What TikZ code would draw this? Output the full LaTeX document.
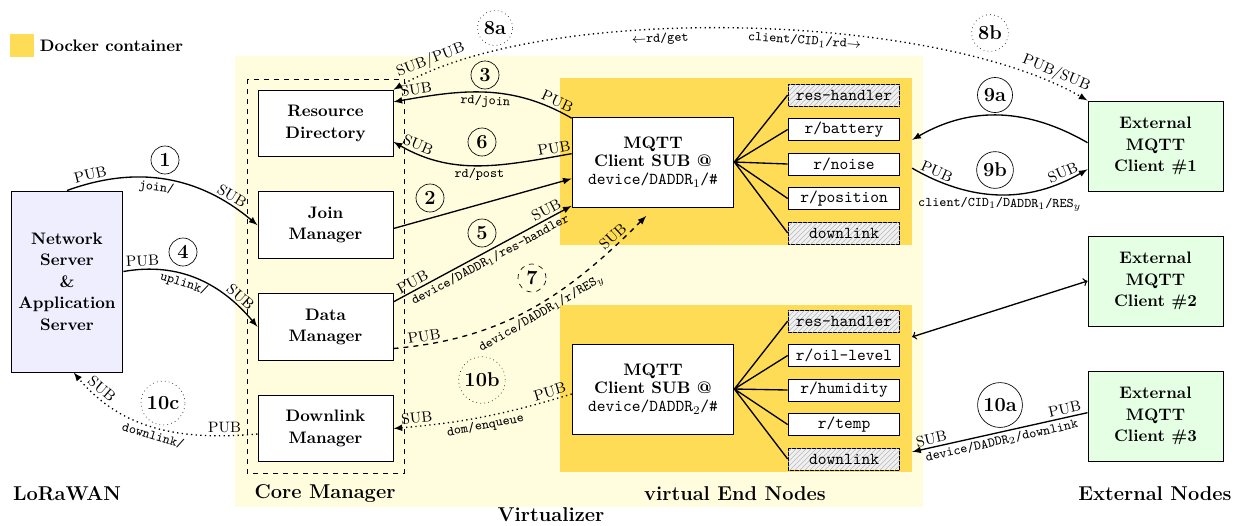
\documentclass[tikz,border=0pt]{standalone}
\usepackage{tikz}
\usetikzlibrary{positioning,patterns}
\definecolor{virtbg}{RGB}{255,253,222}
\definecolor{docker}{RGB}{255,220,85}
\definecolor{lorabg}{RGB}{238,238,255}
\definecolor{extbg}{RGB}{228,255,228}
\def\daddr#1{DADDR$_{#1}$}

\begin{document}
\begin{tikzpicture}[x=0.6pt,y=0.6pt,>=latex]
    \tikzstyle{box}=[draw,semithick,fill=white,minimum width=81pt,minimum height=40pt,
      align=center,font=\linespread{1.07}\selectfont\bfseries]
    \tikzstyle{ext}=[box,fill=extbg,minimum height=54pt]
    \tikzstyle{mqtt}=[box,minimum width=97pt,minimum height=54pt,font=\bfseries]
    \tikzstyle{res}=[draw,semithick,fill=white,minimum width=67pt,minimum height=13.2pt,
      inner sep=1pt,font=\ttfamily]
    \tikzstyle{hatched}=[res,fill=gray!12,postaction={pattern=north east lines,pattern color=gray!55}]
    \tikzstyle{dock}=[fill=docker,minimum width=211pt,minimum height=100pt,inner sep=0pt]
    \tikzstyle{num}=[circle,draw,font=\large\bfseries,inner sep=2pt,minimum size=16.8pt]
    \tikzstyle{ps}=[font=\small,sloped,above,inner sep=1.5pt]
    \tikzstyle{topic}=[font=\ttfamily\footnotesize,sloped,below,inner sep=1.5pt]
    \tikzstyle{arr}=[->,thick]
    \useasboundingbox (0,0) rectangle (1233,-525);

    % legend
    \node[fill=docker,minimum size=14pt,inner sep=0pt] (legsq) at (22,-45.5) {};
    \node[right=0pt of legsq,font=\bfseries] (legtxt) {Docker container};

    % virtualizer and containers
    \fill[virtbg] (235,-56) rectangle (923,-507);
    \node[dock] (dock1) at (736,-161.5) {};
    \node[dock] (dock2) at (736,-388.5) {};
    \draw[dashed,semithick] (247,-79) rectangle (404,-473);

    % LoRaWAN
    \node[box,fill=lorabg,minimum width=67pt,minimum height=108.6pt] (ns) at (67,-281.5)
      {Network\\Server\\\&\\Application\\Server};

    % core manager
    \node[box] (rd) at (325.5,-123.5) {Resource\\Directory};
    \node[box,below=20.4pt of rd] (join) {Join\\Manager};
    \node[box,below=20.4pt of join] (data) {Data\\Manager};
    \node[box,below=20.4pt of data] (dlm) {Downlink\\Manager};

    % virtual end nodes
    \node[mqtt] (mq1) at (653,-162) {MQTT\\[-1pt]Client SUB @\\[-1pt]{\mdseries\ttfamily device/\daddr{1}/\#}};
    \node[mqtt] (mq2) at (653,-389) {MQTT\\[-1pt]Client SUB @\\[-1pt]{\mdseries\ttfamily device/\daddr{2}/\#}};

    \node[hatched] (r1a) at (844,-95) {res-handler};
    \node[res,below=6.9pt of r1a] (r1b) {r/battery};
    \node[res,below=6.9pt of r1b] (r1c) {r/noise};
    \node[res,below=6.9pt of r1c] (r1d) {r/position};
    \node[hatched,below=6.9pt of r1d] (r1e) {downlink};

    \node[hatched] (r2a) at (844,-321) {res-handler};
    \node[res,below=6.9pt of r2a] (r2b) {r/oil-level};
    \node[res,below=6.9pt of r2b] (r2c) {r/humidity};
    \node[res,below=6.9pt of r2c] (r2d) {r/temp};
    \node[hatched,below=6.9pt of r2d] (r2e) {downlink};

    \draw[thick] (mq1.east) -- (r1a.west) (mq1.east) -- (r1b.west) (mq1.east) -- (r1c.west)
      (mq1.east) -- (r1d.west) (mq1.east) -- (r1e.west);
    \draw[thick] (mq2.east) -- (r2a.west) (mq2.east) -- (r2b.west) (mq2.east) -- (r2c.west)
      (mq2.east) -- (r2d.west) (mq2.east) -- (r2e.west);

    % external nodes
    \node[ext] (ext1) at (1155.5,-146) {External\\MQTT\\Client \#1};
    \node[ext] (ext2) at (1155.5,-281) {External\\MQTT\\Client \#2};
    \node[ext] (ext3) at (1155.5,-416) {External\\MQTT\\Client \#3};

    % group labels
    \node[font=\large\bfseries] (lbllora) at (67,-494) {LoRaWAN};
    \node[font=\large\bfseries] (lblcore) at (325,-494) {Core Manager};
    \node[font=\large\bfseries] (lblven) at (735,-494) {virtual End Nodes};
    \node[font=\large\bfseries] (lblext) at (1155,-494) {External Nodes};
    \node[font=\large\bfseries] (lblvirt) at (551,-515) {Virtualizer};

    % join and uplink
    \draw[arr] (ns.north) to[out=20,in=140]
      node[ps,pos=0.12] {PUB} node[ps,pos=0.83] {SUB} node[topic,pos=0.45] {join/} (join.west);
    \draw[arr] ([yshift=6pt]ns.east) to[out=10,in=130]
      node[ps,pos=0.12] {PUB} node[ps,pos=0.8] {SUB} node[topic,pos=0.42] {uplink/} (data.west);
    \draw[arr] ([yshift=-2pt]join.east) -- ([yshift=-10pt]mq1.west);
    \draw[arr] ([yshift=-1pt]mq1.north west) to[out=150,in=10]
      node[ps,pos=0.1] {PUB} node[ps,pos=0.88] {SUB} node[topic,pos=0.5] {rd/join} ([yshift=13pt]rd.east);
    \draw[arr] ([yshift=5pt]mq1.west) to[out=190,in=-30]
      node[ps,pos=0.08] {PUB} node[ps,pos=0.88] {SUB} node[topic,pos=0.5] {rd/post} ([yshift=-11pt]rd.east);
    \draw[arr] ([yshift=15pt]data.east) --
      node[ps,pos=0.13] {PUB} node[ps,pos=0.88] {SUB} node[topic,pos=0.52] {device/\daddr{1}/res-handler}
      ([yshift=1pt]mq1.south west);
    \draw[arr,dashed] ([yshift=-13pt]data.east) to[out=5,in=-135]
      node[ps,pos=0.1] {PUB} node[ps,pos=0.88] {SUB} node[topic,pos=0.52] {device/\daddr{1}/r/RES$_y$}
      ([xshift=-4pt,yshift=-5pt]mq1.south);

    % downlink
    \draw[arr,dotted] ([yshift=-3pt]mq2.west) to[bend left=6]
      node[ps,pos=0.1] {PUB} node[ps,pos=0.88] {SUB} node[topic,pos=0.5] {dom/enqueue} (dlm.east);
    \draw[arr,dotted] ([yshift=-3.3pt]dlm.west) to[out=185,in=-50]
      node[ps,pos=0.15] {PUB} node[ps,pos=0.85] {SUB} node[topic,pos=0.5] {downlink/} ([xshift=4pt]ns.south);

    % resource directory lookup
    \draw[<->,thick,dotted] (rd.north east) to[out=30,in=150,looseness=0.65]
      node[ps,pos=0.08] {SUB/PUB} node[topic,pos=0.4] {$\leftarrow$rd/get}
      node[topic,pos=0.58] {client/CID$_1$/rd$\rightarrow$} node[ps,pos=0.93] {PUB/SUB}
      (ext1.north west);

    % external clients
    \draw[arr] ([yshift=2pt]ext1.west) to[out=150,in=30] ([yshift=13pt]dock1.east);
    \draw[arr] ([yshift=-4pt]dock1.east) to[out=-30,in=-150]
      node[ps,pos=0.12] {PUB} node[ps,pos=0.88] {SUB} node[topic,pos=0.5] {client/CID$_1$/\daddr{1}/RES$_y$}
      ([yshift=-14pt]ext1.west);
    \draw[>=to,<->,thick] (ext2.west) -- ([yshift=31pt]dock2.east);
    \draw[arr] ([yshift=2pt]ext3.west) --
      node[ps,pos=0.12] {PUB} node[ps,pos=0.88] {SUB} node[topic,pos=0.5] {device/\daddr{2}/downlink}
      ([yshift=-38pt]dock2.east);

    % steps
    \node[num] (s1) at (165,-160) {1};
    \node[num] (s2) at (430,-198) {2};
    \node[num] (s3) at (485,-75) {3};
    \node[num] (s4) at (183,-252) {4};
    \node[num] (s5) at (482,-233) {5};
    \node[num] (s6) at (482,-142) {6};
    \node[num,dashed] (s7) at (532,-278) {7};
    \node[num,dotted] (s8a) at (495,-28) {8a};
    \node[num,dotted] (s8b) at (990,-33) {8b};
    \node[num] (s9a) at (995,-95) {9a};
    \node[num] (s9b) at (995,-170) {9b};
    \node[num] (s10a) at (1000,-405) {10a};
    \node[num,dotted] (s10b) at (482,-380) {10b};
    \node[num,dotted] (s10c) at (163,-403) {10c};
\end{tikzpicture}
\end{document}
